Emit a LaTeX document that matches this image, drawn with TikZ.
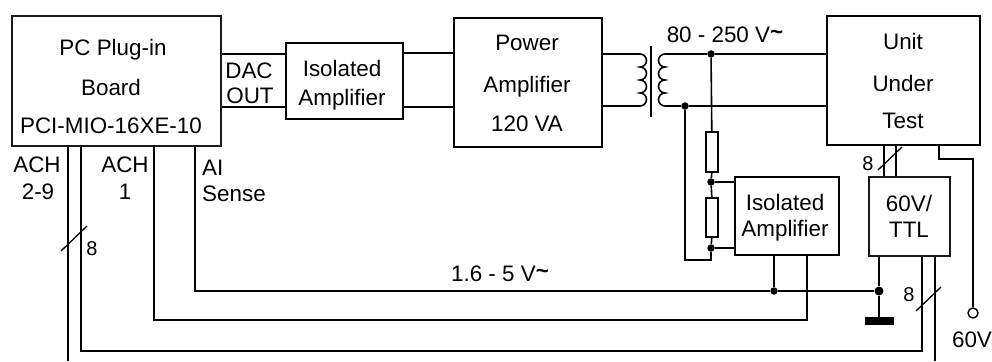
\documentclass[tikz,border=0pt]{standalone}
\usepackage{fontspec}
\setmainfont{Liberation Sans}
\begin{document}
\begin{tikzpicture}[x=1pt,y=-1pt,line join=miter,
  wire/.style={line width=1.6pt,black},
  slash/.style={line width=1.3pt,black},
  thinbox/.style={draw=black!90,line width=1.6pt,inner sep=0pt,anchor=north west},
  thickbox/.style={draw=black,line width=2.4pt,inner sep=0pt,anchor=north west},
  res/.style={draw=black,line width=1.6pt,inner sep=0pt,anchor=north west,minimum width=12pt},
  lab/.style={anchor=base,inner sep=0pt,font=\fontsize{22.4}{22.4}\selectfont,text=black},
  labl/.style={lab,anchor=base west},
  dot/.style={circle,fill=black,inner sep=0pt,minimum size=7.5pt},
  term/.style={circle,draw=black,line width=1.4pt,fill=white,inner sep=0pt,minimum size=10pt},
  lobeL/.style={start angle=-90,end angle=90,x radius=6.5,y radius=6.5},
  lobeR/.style={start angle=-90,end angle=-270,x radius=6.5,y radius=6.5}]
\useasboundingbox (0,0) rectangle (992,361);
% boxes
\node[thinbox,minimum width=209pt,minimum height=130pt] (pc) at (11,15) {};
\node[thickbox,minimum width=117pt,minimum height=76pt] (isoa) at (285,42) {};
\node[thickbox,minimum width=148pt,minimum height=129pt] (pow) at (453,17) {};
\node[thickbox,minimum width=153pt,minimum height=129pt] (uut) at (826,15) {};
\node[thickbox,minimum width=104pt,minimum height=78pt] (isob) at (734,176) {};
\node[thinbox,minimum width=81pt,minimum height=79pt] (ttl) at (868,176) {};
\node[res,minimum height=40pt] (ra) at (705,131) {};
\node[res,minimum height=39pt] (rb) at (705,197) {};
% junctions and bends
\node[dot] (d1) at (711,54) {};
\node[dot] (d2) at (685,106) {};
\node[dot] (d3) at (711,182) {};
\node[dot] (d4) at (711,248) {};
\node[dot] (d5) at (774,291) {};
\node[dot,minimum size=9pt] (d6) at (879,291) {};
\coordinate (lt) at (640,54);
\coordinate (lb) at (640,106);
\coordinate (rt) at (665,54);
\coordinate (rb2) at (665,106);
\coordinate (c1) at (651,46);
\coordinate (c2) at (651,117);
\coordinate (y53) at (0,53);
\coordinate (y54) at (0,54);
\coordinate (y107) at (0,107);
\coordinate (loop) at (685,260);
\coordinate (loop2) at (711,260);
\coordinate (xa) at (195,291);
\coordinate (xb) at (154,320);
\coordinate (xc) at (81,351);
\coordinate (xd) at (68,361);
\coordinate (xe) at (807,320);
\coordinate (xf) at (922,351);
\coordinate (xg) at (935,361);
\coordinate (b1) at (884,160);
\coordinate (b2) at (896,160);
\coordinate (t1) at (939,159);
\coordinate (t2) at (973,159);
\node[term] (t60) at (973,313) {};
\node[draw=black,fill=black,inner sep=0pt,minimum width=28pt,minimum height=7pt] (gnd) at (879,321) {};
% connectors
\draw[wire] (pc.east |- y54) -- (isoa.west |- y54);
\draw[wire] (pc.east |- y107) -- (isoa.west |- y107);
\draw[wire] (isoa.east |- y53) -- (pow.west |- y53);
\draw[wire] (isoa.east |- y107) -- (pow.west |- y107);
\draw[wire] (pow.east |- lt) -- (lt);
\draw[wire] (pow.east |- lb) -- (lb);
\draw[wire] (rt) -- (d1) -- (uut.west |- rt);
\draw[wire] (rb2) -- (d2) -- (uut.west |- rb2);
\draw[wire] (lt) arc[lobeL] arc[lobeL] arc[lobeL] arc[lobeL];
\draw[wire] (rt) arc[lobeR] arc[lobeR] arc[lobeR] arc[lobeR];
\draw[wire,line width=1.8pt] (c1) -- (c2);
\draw[wire] (d1) -- (ra.north);
\draw[wire] (ra.south) -- (d3) -- (rb.north);
\draw[wire] (rb.south) -- (d4) -- (loop2) -- (loop) -- (d2);
\draw[wire] (d3) -- (isob.west |- d3);
\draw[wire] (d4) -- (isob.west |- d4);
\draw[wire] (pc.south -| xa) -- (xa) -- (d5) -- (d6);
\draw[wire] (isob.south -| d5) -- (d5);
\draw[wire] (ttl.south -| d6) -- (d6) -- (gnd.north);
\draw[wire] (pc.south -| xb) -- (xb) -- (xe) -- (isob.south -| xe);
\draw[wire] (pc.south -| xc) -- (xc) -- (xf) -- (ttl.south -| xf);
\draw[wire] (pc.south -| xd) -- (xd);
\draw[wire] (ttl.south -| xg) -- (xg);
\draw[wire] (uut.south -| b1) -- (ttl.north -| b1);
\draw[wire] (uut.south -| b2) -- (ttl.north -| b2);
\draw[wire] (uut.south -| t1) -- (t1) -- (t2) -- (t60.north);
% bus slashes
\coordinate (s1) at (878,170); \coordinate (s2) at (902,147);
\coordinate (s3) at (916,311); \coordinate (s4) at (941,287);
\coordinate (s5) at (61,251); \coordinate (s6) at (87,226);
\draw[slash] (s1) -- (s2);
\draw[slash] (s3) -- (s4);
\draw[slash] (s5) -- (s6);
% text
\node[lab] (l1) at (113,56) {PC Plug-in};
\node[lab] (l2) at (111,95) {Board};
\node[lab] (l3) at (111,133) {PCI-MIO-16XE-10};
\node[lab] (l4) at (37,172) {ACH};
\node[lab] (l5) at (38,199) {2-9};
\node[lab] (l6) at (125,172) {ACH};
\node[lab] (l7) at (125,199) {1};
\node[labl] (l8) at (202,175) {AI};
\node[labl] (l9) at (202,201) {Sense};
\node[lab] (l10) at (249,78) {DAC};
\node[lab] (l11) at (250,103) {OUT};
\node[lab] (l12) at (342,77) {Isolated};
\node[lab] (l13) at (342,105) {Amplifier};
\node[lab] (l14) at (527,51) {Power};
\node[lab] (l15) at (527,92) {Amplifier};
\node[lab] (l16) at (527,131) {120 VA};
\node[lab] (l17) at (903,50) {Unit};
\node[lab] (l18) at (903,91) {Under};
\node[lab] (l19) at (903,128) {Test};
\node[lab] (l20) at (725,43) {80 - 250 V\raisebox{3pt}{\textbf{\char`\~}}};
\node[lab] (l21) at (500,281) {1.6 - 5 V\raisebox{3pt}{\textbf{\char`\~}}};
\node[lab] (l22) at (785,210) {Isolated};
\node[lab] (l23) at (785,236) {Amplifier};
\node[lab] (l24) at (909,211) {60V/};
\node[lab] (l25) at (909,237) {TTL};
\node[lab] (l26) at (972,347) {60V};
\node[lab,font=\fontsize{20}{20}\selectfont] (l27) at (868,170) {8};
\node[lab,font=\fontsize{20}{20}\selectfont] (l28) at (909,301) {8};
\node[lab,font=\fontsize{20}{20}\selectfont] (l29) at (92,255) {8};
\end{tikzpicture}
\end{document}
